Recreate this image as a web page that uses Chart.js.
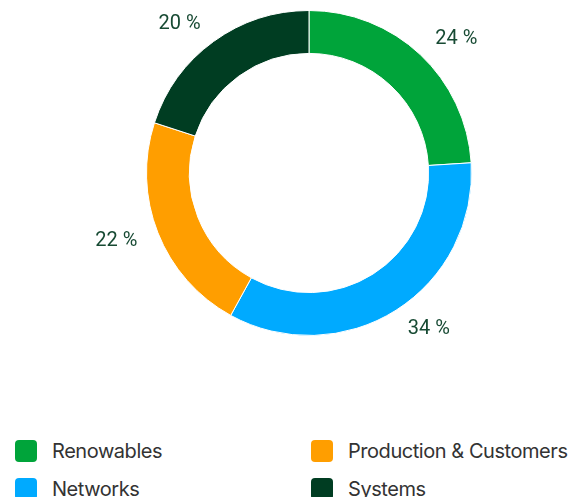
<!DOCTYPE html>
<html>
<head>
<meta charset="utf-8">
<script src="https://cdn.jsdelivr.net/npm/chart.js@4"></script>
<style>
  html, body { margin: 0; padding: 0; background: #fff; }
  #wrap { position: relative; width: 576px; height: 380px; }
  #legend { position: absolute; left: 0; top: 438px; width: 576px; font-family: Inter, sans-serif; font-size: 20px; color: #333; }
  .item { position: absolute; display: flex; align-items: center; height: 24px; letter-spacing: -0.45px; }
  .box { width: 22px; height: 22px; border-radius: 4px; margin-right: 15px; }
</style>
</head>
<body>
<div id="wrap"><canvas id="myChart" width="576" height="380"></canvas></div>
<div id="legend"></div>
<script>
// donut

const labels = ['Renowables', 'Networks', 'Production & Customers', 'Systems'];
const shares = [24, 34, 22, 20];
const colors = ['#00a43a', '#00aaff', '#ff9e00', '#003d22'];

// legend order on the page (two columns)
const legendOrder = [0, 2, 1, 3];
const legendX = [15, 311];
const legendY = [1, 39];

const ctx = document.getElementById('myChart').getContext('2d');

// percent labels outside the ring
const outsideLabels = {
    id: 'outsideLabels',
    afterDatasetsDraw(chart) {
        const c = chart.ctx;
        const meta = chart.getDatasetMeta(0);
        c.save();
        c.font = '20px Roboto, sans-serif';
        c.fillStyle = '#174a33';
        c.textBaseline = 'middle';
        meta.data.forEach(function(arc, i) {
            const mid = (arc.startAngle + arc.endAngle) / 2;
            const r = arc.outerRadius + 22;
            const x = arc.x + Math.cos(mid) * r;
            const y = arc.y + Math.sin(mid) * r;
            c.textAlign = Math.cos(mid) >= 0 ? 'left' : 'right';
            c.fillText(shares[i] + ' %', x, y);
        });
        c.restore();
    }
};

const myChart = new Chart(ctx, {
    type: 'doughnut',
    data: {
        labels: labels,
        datasets: [{
            data: shares,
            backgroundColor: colors,
            borderColor: '#ffffff',
            borderWidth: 1,
        }],
    },
    options: {
        responsive: false,
        animation: false,
        cutout: '73.6%',
        layout: { padding: { top: 10, bottom: 44, left: 146, right: 104 } },
        plugins: {
            legend: { display: false },
            tooltip: { enabled: false },
        }
    },
    plugins: [outsideLabels]
});

// html legend
const legend = document.getElementById('legend');
legendOrder.forEach(function(idx, k) {
    const el = document.createElement('div');
    el.className = 'item';
    el.style.left = legendX[k % 2] + 'px';
    el.style.top = legendY[Math.floor(k / 2)] + 'px';
    el.innerHTML = '<span class="box" style="background:' + colors[idx] + '"></span>';
    el.appendChild(document.createTextNode(labels[idx]));
    legend.appendChild(el);
});
</script>
</body>
</html>
